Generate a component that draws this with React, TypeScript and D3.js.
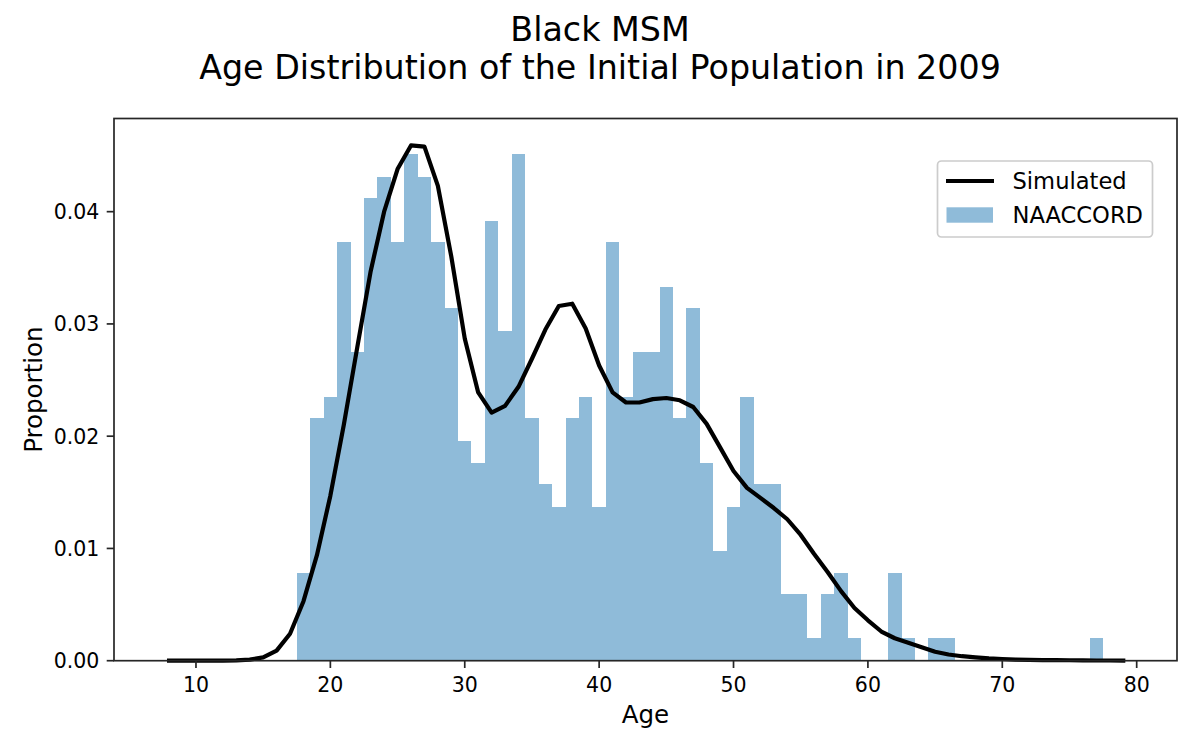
import React from "react";
import * as d3 from "d3";

// Histogram bins (age at bin centre, bin width 1 year) and their proportions
const binAges = [
  18, 19, 20, 21, 22, 23, 24, 25, 26, 27, 28, 29, 30, 31, 32, 33, 34, 35, 36, 37,
  38, 39, 40, 41, 42, 43, 44, 45, 46, 47, 48, 49, 50, 51, 52, 53, 54, 55, 56, 57,
  58, 59, 60, 61, 62, 63, 64, 65, 66, 67, 68, 69, 70, 71, 72, 73, 74, 75, 76, 77,
];
const naaccordProportion = [
  0.0078, 0.0216, 0.0235, 0.0373, 0.0275, 0.0412, 0.0431, 0.0373, 0.0451, 0.0431,
  0.0373, 0.0314, 0.0196, 0.0176, 0.0392, 0.0294, 0.0451, 0.0216, 0.0157, 0.0137,
  0.0216, 0.0235, 0.0137, 0.0373, 0.0235, 0.0275, 0.0275, 0.0333, 0.0216, 0.0314,
  0.0176, 0.0098, 0.0137, 0.0235, 0.0157, 0.0157, 0.0059, 0.0059, 0.002, 0.0059,
  0.0078, 0.002, 0, 0, 0.0078, 0.002, 0, 0.002, 0.002, 0,
  0, 0, 0, 0, 0, 0, 0, 0, 0, 0.002,
];

// Simulated age distribution
const simAges = [
  8, 9, 10, 11, 12, 13, 14, 15, 16, 17, 18, 19, 20, 21, 22, 23, 24, 25, 26, 27,
  28, 29, 30, 31, 32, 33, 34, 35, 36, 37, 38, 39, 40, 41, 42, 43, 44, 45, 46, 47,
  48, 49, 50, 51, 52, 53, 54, 55, 56, 57, 58, 59, 60, 61, 62, 63, 64, 65, 66, 67,
  68, 69, 70, 71, 72, 73, 74, 75, 76, 77, 78, 79,
];
const simulatedProportion = [
  0, 0, 0, 0, 0.00001, 0.00003, 0.0001, 0.0003, 0.0009, 0.0024,
  0.0053, 0.0094, 0.0147, 0.021, 0.0279, 0.0347, 0.04, 0.0438, 0.0459, 0.0458,
  0.0423, 0.036, 0.0287, 0.0239, 0.0221, 0.0227, 0.0244, 0.0269, 0.0295, 0.0316,
  0.0318, 0.0296, 0.0263, 0.0239, 0.023, 0.023, 0.0233, 0.0234, 0.0232, 0.0226,
  0.0211, 0.019, 0.0169, 0.0154, 0.0145, 0.0136, 0.0126, 0.0112, 0.0095, 0.0079,
  0.0062, 0.0047, 0.0036, 0.0026, 0.002, 0.0016, 0.0012, 0.0008, 0.00055, 0.0004,
  0.0003, 0.0002, 0.00015, 0.0001, 0.00008, 0.00006, 0.00005, 0.00004, 0.00003, 0.00002,
  0.00002, 0.00001,
];

const xTicks = [10, 20, 30, 40, 50, 60, 70, 80];
const yTicks = [0, 0.01, 0.02, 0.03, 0.04];

const titleLines = ["Black MSM", "Age Distribution of the Initial Population in 2009"];
const legendLabels = ["Simulated", "NAACCORD"];

const W = 1200;
const H = 750;
const plot = { left: 114, right: 1177, top: 118.5, bottom: 660.7 };
const FONT = "'DejaVu Sans', sans-serif";
const BAR_COLOR = "#8fbbd9";
const AXIS_COLOR = "#262626";

export default function App() {
  const x = d3.scaleLinear().domain([3.9, 83.0]).range([plot.left, plot.right]);
  const y = d3.scaleLinear().domain([0, 0.0483]).range([plot.bottom, plot.top]);

  const line = d3
    .line<number>()
    .x((_, i) => x(simAges[i]))
    .y((d) => y(d))(simulatedProportion) as string;

  const tickLen = 7.3;

  return (
    <svg
      width={W}
      height={H}
      viewBox={`0 0 ${W} ${H}`}
      style={{ position: "absolute", left: 0, top: 0, background: "#fff" }}
      fontFamily={FONT}
    >
      <rect x={0} y={0} width={W} height={H} fill="#fff" />

      {/* title */}
      {titleLines.map((t, i) => (
        <text key={t} x={600} y={41 + i * 37.6} textAnchor="middle" fontSize={33.3} fill="#000">
          {t}
        </text>
      ))}

      {/* histogram */}
      <g shapeRendering="crispEdges">
        {binAges.map((a, i) =>
          naaccordProportion[i] > 0 ? (
            <rect
              key={a}
              x={x(a - 0.5)}
              y={y(naaccordProportion[i])}
              width={x(a + 0.5) - x(a - 0.5)}
              height={y(0) - y(naaccordProportion[i])}
              fill={BAR_COLOR}
            />
          ) : null
        )}
      </g>

      {/* simulated curve */}
      <path d={line} fill="none" stroke="#000" strokeWidth={4.2} strokeLinejoin="round" strokeLinecap="square" />

      {/* axes frame */}
      <rect
        x={plot.left}
        y={plot.top}
        width={plot.right - plot.left}
        height={plot.bottom - plot.top}
        fill="none"
        stroke={AXIS_COLOR}
        strokeWidth={1.7}
      />

      {/* x axis */}
      {xTicks.map((t) => (
        <g key={t} transform={`translate(${x(t)},0)`}>
          <line y1={plot.bottom} y2={plot.bottom + tickLen} stroke={AXIS_COLOR} strokeWidth={1.7} />
          <text y={692} textAnchor="middle" fontSize={20.5} fill="#000">
            {t}
          </text>
        </g>
      ))}
      <text x={(plot.left + plot.right) / 2} y={722.5} textAnchor="middle" fontSize={24.5} fill="#000">
        Age
      </text>

      {/* y axis */}
      {yTicks.map((t) => (
        <g key={t} transform={`translate(0,${y(t)})`}>
          <line x1={plot.left - tickLen} x2={plot.left} stroke={AXIS_COLOR} strokeWidth={1.7} />
          <text x={99.3} dy="0.36em" textAnchor="end" fontSize={20.5} fill="#000">
            {d3.format(".2f")(t)}
          </text>
        </g>
      ))}
      <text
        transform={`translate(42,${(plot.top + plot.bottom) / 2}) rotate(-90)`}
        textAnchor="middle"
        fontSize={24.5}
        fill="#000"
      >
        Proportion
      </text>

      {/* legend */}
      <g>
        <rect x={937.5} y={161} width={215} height={76} rx={4} fill="#fff" fillOpacity={0.8} stroke="#cccccc" strokeWidth={1.7} />
        <line x1={946} x2={994} y1={181} y2={181} stroke="#000" strokeWidth={4.2} />
        <rect x={946.5} y={207.3} width={46.5} height={15.4} fill={BAR_COLOR} />
        <text x={1012.5} y={188.5} fontSize={22.6} fill="#000">
          {legendLabels[0]}
        </text>
        <text x={1012.5} y={222.7} fontSize={22.6} fill="#000">
          {legendLabels[1]}
        </text>
      </g>
    </svg>
  );
}
